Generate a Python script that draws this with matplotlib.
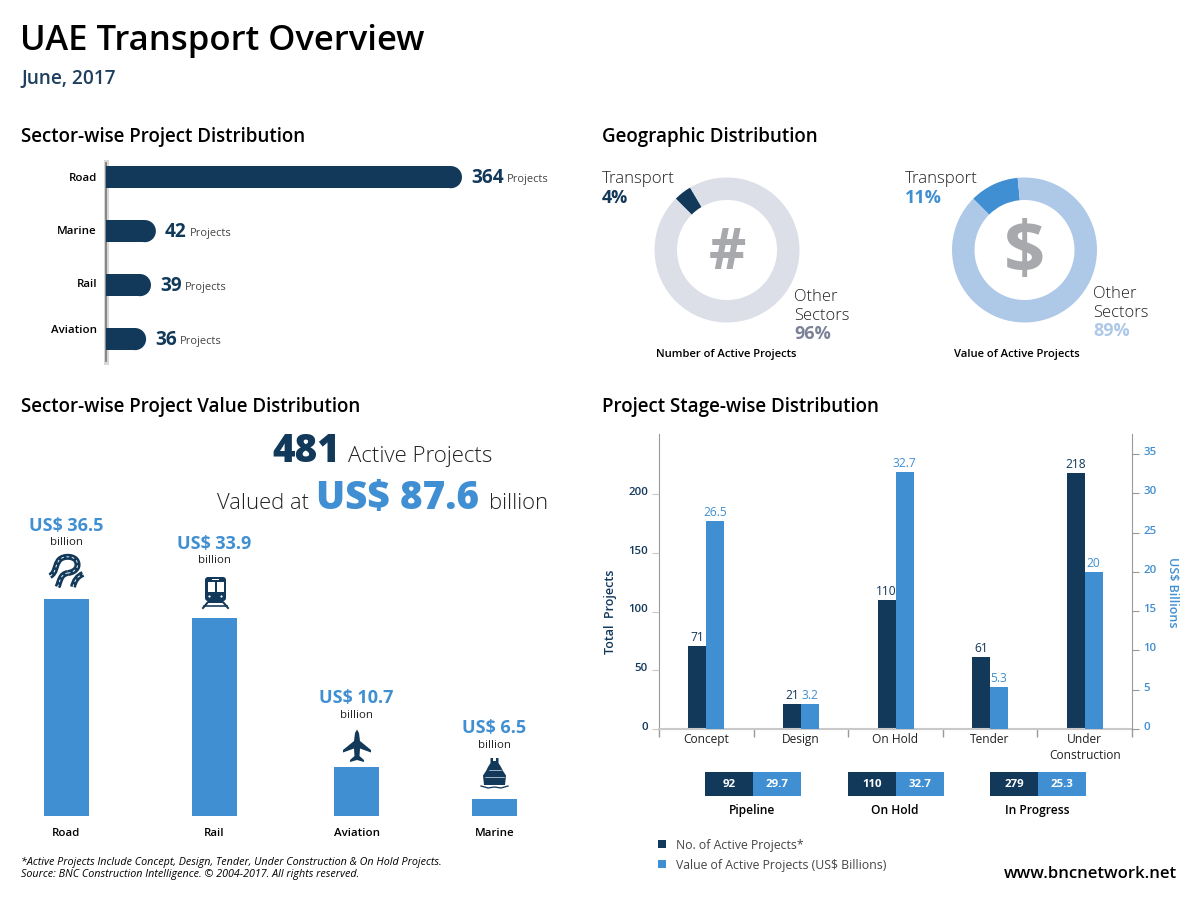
import matplotlib
matplotlib.use('Agg')
import matplotlib.pyplot as plt
from matplotlib.patches import Ellipse, Rectangle, Polygon, FancyBboxPatch, PathPatch
from matplotlib.path import Path
from matplotlib.transforms import ScaledTranslation

plt.rcParams['font.family'] = ['Open Sans', 'Noto Sans', 'DejaVu Sans']

W, H = 1200, 900
DARK = '#12385a'
BLUE = '#3f8fd2'
PALE_GREY = '#dcdfe7'
PALE_BLUE = '#aec8e8'
GLYPH = '#a7a9ac'
TXT = '#222222'

# sector-wise project counts
sectors = ['Road', 'Marine', 'Rail', 'Aviation']
sector_projects = [364, 42, 39, 36]
# the source draws short bars longer than their numbers, lengths as measured
sector_bar_len = [364, 51, 46, 41]

# donuts
count_share = [4, 96]
value_share = [11, 89]

# sector value
value_sectors = ['Road', 'Rail', 'Aviation', 'Marine']
value_labels = ['US$ 36.5', 'US$ 33.9', 'US$ 10.7', 'US$ 6.5']
# bar heights as drawn in the source, not to scale with the labels
value_bar_height = [36.5, 33.3, 8.2, 2.9]

# stages
stages = ['Concept', 'Design', 'On Hold', 'Tender', 'Under\nConstruction']
stage_projects = [71, 21, 110, 61, 218]
stage_billions = [26.5, 3.2, 32.7, 5.3, 20]
stage_billion_labels = ['26.5', '3.2', '32.7', '5.3', '20']

# summary blocks
groups = ['Pipeline', 'On Hold', 'In Progress']
group_projects = [92, 110, 279]
group_billions = [29.7, 32.7, 25.3]


def px_axes(left, top, right, bottom):
    return fig.add_axes([left / W, 1 - bottom / H, (right - left) / W, (bottom - top) / H])


def pt(px):
    return px * 0.72


fig = plt.figure(figsize=(12, 9), dpi=100, facecolor='white')


# ---- sector bars
ax = px_axes(106, 150, 560, 365)
ax.set_xlim(0, 454 / 0.978)
ax.set_ylim(3.48, -0.503)
ax.axis('off')
cap = 11 / 0.978
# axis with its soft shadow, under the bars
ax.axvline(0, 0.014, 0.944, color='#d8d8d8', lw=pt(5), clip_on=False, zorder=0)
ax.axvline(0, 0.02, 0.938, color='#808080', lw=pt(1.8), clip_on=False, zorder=1)
for i, (n, L) in enumerate(zip(sector_projects, sector_bar_len)):
    ax.barh(i, L - cap, height=0.41, left=0, color=DARK, linewidth=0, zorder=3)
    ax.add_patch(Ellipse((L - cap, i), 2 * cap, 0.41, color=DARK, linewidth=0, zorder=3))
    ax.annotate(str(n), xy=(L, i), xytext=(9, -1), textcoords='offset pixels', va='center',
                fontsize=pt(19), fontweight='bold', color=DARK)
    ax.annotate('Projects', xy=(L, i), xytext=(45 if n > 99 else 34, -2), textcoords='offset pixels',
                va='center', fontsize=pt(11), color='#444444')

# ---- donuts
for share, colors, cx, icon, icon_size, icon_y in [
        (count_share, [DARK, PALE_GREY], 727, '#', 58, 254),
        (value_share, [BLUE, PALE_BLUE], 1024.5, '$', 72, 254)]:
    dax = px_axes(cx - 80, 170, cx + 80, 330)
    dax.pie(share, colors=colors, startangle=135, counterclock=False, radius=72.5 / 80,
            wedgeprops=dict(width=22.5 / 80, linewidth=0))
    dax.set_xlim(-1, 1)
    dax.set_ylim(-1, 1)
    dax.text(0, (250 - icon_y) / 80, icon, ha='center', va='center', fontsize=pt(icon_size),
             fontweight='bold', color=GLYPH)

# ---- sector value bars
vax = px_axes(20, 500, 540, 816)
vax.set_xlim(20, 540)
vax.set_ylim(0, 316 / 5.95)
vax.axis('off')
value_x = [66.5, 214.5, 356.5, 494.5]
vax.bar(value_x, value_bar_height, width=45, color=BLUE, linewidth=0)

# ---- stage chart
sax = px_axes(659, 434, 1132, 729)
sax.set_xlim(-0.5, 4.5)
sax.set_ylim(0, 295 / 1.175)
w = 18 / 94.6
sax.bar([i - w / 2 for i in range(5)], stage_projects, width=w, color=DARK, linewidth=0)
sax.set_xticks(range(5))
sax.set_xticklabels(stages, fontsize=pt(12), color=TXT, linespacing=1.25)
sax.set_xticks([i - 0.5 for i in range(6)], minor=True)
sax.tick_params(axis='x', which='major', length=0, pad=3)
sax.tick_params(axis='x', which='minor', length=6, color='#9a9a9a', width=1)
left_ticks = [0, 50, 100, 150, 200]
sax.set_yticks(left_ticks)
sax.set_yticklabels([str(t) for t in left_ticks], fontweight='semibold', fontsize=pt(11.5), color=DARK)
sax.tick_params(axis='y', length=5, color='#c9c9c9', pad=3)
lift = ScaledTranslation(0, 3 / 100, fig.dpi_scale_trans)
for lab in sax.get_yticklabels():
    lab.set_transform(lab.get_transform() + lift)
sax.spines['top'].set_visible(False)
sax.spines['right'].set_visible(False)
sax.spines['left'].set_color('#9a9a9a')
sax.spines['bottom'].set_color('#c9c9c9')
sax.spines['bottom'].set_linewidth(1.5)
sax.set_ylabel('Total  Projects', fontsize=pt(12.5), color=DARK, fontweight='semibold', labelpad=8, y=0.397)
for i, n in enumerate(stage_projects):
    sax.annotate(str(n), xy=(i - w / 2, n), xytext=(0, 2), textcoords='offset pixels', ha='center',
                 va='bottom', fontsize=pt(12), color=DARK)

sax2 = sax.twinx()
sax2.set_ylim(0, 295 / 7.86)
sax2.bar([i + w / 2 for i in range(5)], stage_billions, width=w, color=BLUE, linewidth=0)
right_ticks = [0, 5, 10, 15, 20, 25, 30, 35]
sax2.set_yticks(right_ticks)
sax2.set_yticklabels([str(t) for t in right_ticks], fontweight='semibold', fontsize=pt(11.5), color=BLUE)
sax2.tick_params(axis='y', length=5, color='#9a9a9a', pad=3)
for lab in sax2.get_yticklabels():
    lab.set_transform(lab.get_transform() + lift)
for s in ['top', 'left', 'bottom']:
    sax2.spines[s].set_visible(False)
sax2.spines['right'].set_color('#9a9a9a')
sax2.set_ylabel('US$ Billions', fontsize=pt(12.5), color=BLUE, fontweight='semibold', rotation=270,
                labelpad=16, y=0.464)
for i, (v, s) in enumerate(zip(stage_billions, stage_billion_labels)):
    sax2.annotate(s, xy=(i + w / 2, v), xytext=(0, 2), textcoords='offset pixels', ha='center',
                  va='bottom', fontsize=pt(12), color=BLUE)

# ---- overlay in pixel coordinates for the page text
ov = fig.add_axes([0, 0, 1, 1], facecolor='none')
ov.set_xlim(0, W)
ov.set_ylim(H, 0)
ov.axis('off')


def T(x, y, s, px, color=TXT, weight='normal', ha='left', **kw):
    return ov.text(x, y, s, fontsize=pt(px), color=color, fontweight=weight, ha=ha, va='baseline', **kw)


T(20, 50, 'UAE Transport Overview', 34.7, 'black', 'semibold')
T(21, 84, 'June, 2017', 19, '#1f3f5f', 'semibold')
T(21, 142, 'Sector-wise Project Distribution', 18.8, 'black', 'semibold')
T(602, 142, 'Geographic Distribution', 18.8, 'black', 'semibold')
T(21, 412, 'Sector-wise Project Value Distribution', 18.8, 'black', 'semibold')
T(602, 412, 'Project Stage-wise Distribution', 18.8, 'black', 'semibold')

for name, y in zip(sectors, [181, 234, 287, 333]):
    T(97, y, name, 11.5, 'black', 'semibold', ha='right')

# donut labels
T(602, 183, 'Transport', 16.8, TXT, 'light')
T(602, 203, '4%', 18, DARK, 'bold')
T(794, 301, 'Other', 16.5, TXT, 'light')
T(794, 320, 'Sectors', 16.5, TXT, 'light')
T(794, 339, '96%', 18, '#7b8197', 'bold')
T(726.5, 357, 'Number of Active Projects', 11.3, 'black', 'semibold', ha='center')
T(905, 183, 'Transport', 16.8, TXT, 'light')
T(905, 203, '11%', 18, BLUE, 'bold')
T(1093, 298, 'Other', 16.5, TXT, 'light')
T(1093, 317, 'Sectors', 16.5, TXT, 'light')
T(1093, 336, '89%', 18, PALE_BLUE, 'bold')
T(1017, 357, 'Value of Active Projects', 11.3, 'black', 'semibold', ha='center')

# headline
T(272, 462, '481', 38.5, DARK, 800)
T(348, 462, 'Active Projects', 22.3, TXT, 'light')
T(217, 509, 'Valued at', 22, TXT, 'light')
T(316, 509, 'US$ 87.6', 38.5, BLUE, 800)
T(489, 509, 'billion', 22, TXT, 'light')

# sector value texts
for x, s, y1, y2, name in zip(value_x, value_labels, [531, 549, 703, 733], [545, 563, 718, 748], value_sectors):
    T(x, y1, s, 18, BLUE, 'bold', ha='center')
    T(x, y2, 'billion', 11.5, TXT, 'normal', ha='center')
    T(x, 836, name, 11.5, 'black', 'semibold', ha='center')

# road icon
curve = [Path.MOVETO] + [Path.CURVE4] * 9
road_a = Path([(50, 576), (56, 573), (55, 566), (58, 562), (60, 556), (72, 555), (76, 560),
               (80, 566), (76, 572), (68, 573)], curve)
road_a2 = Path([(68, 573), (60, 574), (60, 582), (57.5, 587)], [Path.MOVETO] + [Path.CURVE4] * 3)
road_b = Path([(73, 587), (75, 577), (83, 574)], [Path.MOVETO, Path.CURVE3, Path.CURVE3])
for p in (road_a, road_a2, road_b):
    ov.add_patch(PathPatch(p, fc='none', ec=DARK, lw=pt(6), capstyle='butt'))
for p in (road_a, road_a2, road_b):
    ov.add_patch(PathPatch(p, fc='none', ec='white', lw=pt(0.9), ls=(0, (3, 3))))

# train icon
ov.add_patch(FancyBboxPatch((205, 577), 21, 24, boxstyle='round,pad=0,rounding_size=3', fc=DARK, ec='none'))
ov.add_patch(Rectangle((207.5, 582), 7, 10, fc='white', ec='none'))
ov.add_patch(Rectangle((216.5, 582), 7, 10, fc='white', ec='none'))
ov.add_patch(Rectangle((212, 578.8), 7, 1.5, fc='white', ec='none'))
ov.add_patch(Ellipse((209.5, 596.5), 2.2, 2.2, fc='white', ec='none'))
ov.add_patch(Ellipse((221.5, 596.5), 2.2, 2.2, fc='white', ec='none'))
ov.plot([203, 208, 223, 228], [608, 602, 602, 608], color=DARK, lw=pt(2))
ov.plot([204, 227], [605.5, 605.5], color=DARK, lw=pt(1.6))

# plane icon
ov.add_patch(Polygon([(357, 729.5), (359, 733), (360, 741), (371, 750), (371, 752.5), (360, 748.5), (359.5, 756),
                     (364, 760), (364, 762), (357, 760), (350, 762), (350, 760), (354.5, 756), (354, 748.5),
                     (343, 752.5), (343, 750), (354, 741), (355, 733)], fc=DARK, ec='none'))

# ship icon
ov.add_patch(Polygon([(490.5, 758), (493, 758), (493, 761), (496, 761), (496, 758), (498.5, 758), (498.5, 763),
                     (501, 767), (503, 771), (506, 775.5), (505, 785), (484, 785), (483, 775.5),
                     (486, 771), (488, 767), (490.5, 763)], fc=DARK, ec='none'))
ov.plot([481, 488, 494.5, 501, 508], [786, 788, 787, 788, 786], color=DARK, lw=pt(1.3))
ov.plot([485, 504], [776.5, 776.5], color='white', lw=pt(0.6))
ov.plot([488.5, 500.5], [770, 770], color='white', lw=pt(0.6))

# summary blocks
for x, name, n, b in zip([705, 848, 990], groups, group_projects, group_billions):
    ov.add_patch(Rectangle((x, 772), 48, 24, fc=DARK, ec='none'))
    ov.add_patch(Rectangle((x + 48, 772), 48, 24, fc=BLUE, ec='none'))
    ov.text(x + 24, 784.5, str(n), color='white', fontsize=pt(11.5), fontweight='bold', ha='center', va='center')
    ov.text(x + 72, 784.5, f'{b}', color='white', fontsize=pt(11.5), fontweight='bold', ha='center', va='center')
    T(x + 47, 814, name, 12, 'black', 'semibold', ha='center')

# legend
ov.add_patch(Rectangle((658, 840), 8, 8, fc=DARK, ec='none'))
ov.add_patch(Rectangle((658, 860), 8, 8, fc=BLUE, ec='none'))
T(676, 849, 'No. of Active Projects*', 12.2, '#444444')
T(676, 869, 'Value of Active Projects (US$ Billions)', 12.2, '#444444')

T(1177, 878, 'www.bncnetwork.net', 16.6, 'black', 'semibold', ha='right')

T(21, 865, '*Active Projects Include Concept, Design, Tender, Under Construction & On Hold Projects.', 10.8, 'black', style='italic')
T(21, 877, 'Source: BNC Construction Intelligence. © 2004-2017. All rights reserved.', 10.8, 'black', style='italic')

fig.savefig('out.png', dpi=100, facecolor='white')
